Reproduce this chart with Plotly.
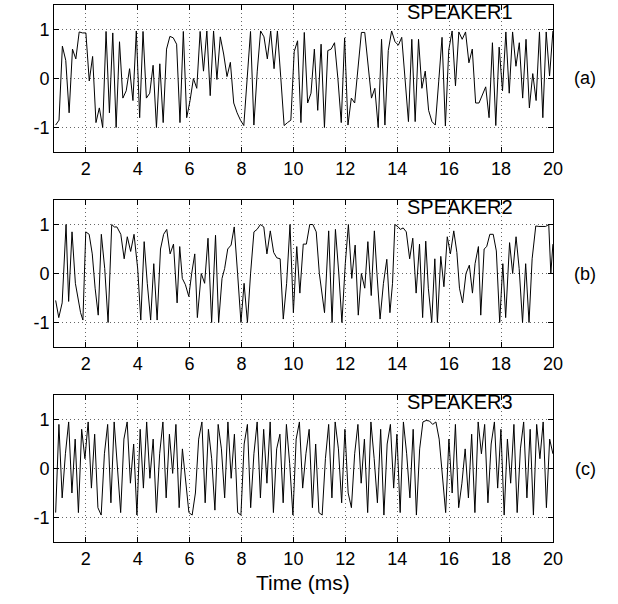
import numpy as np
import plotly.graph_objects as go

# ---- data ----
speaker1 = [-0.95, -0.85, 0.66, 0.37, -0.7, 0.6, 0.4, 0.95, 0.93, 0.93, -0.05, 0.45, -0.9, -0.6, -1.0,
            0.96, -0.7, 0.93, -1.0, 0.75, -0.4, -0.25, 0.2, -0.45, 0.97, -0.8, 0.96, -0.4, -0.3, 0.27,
            -1.0, 0.3, -0.9, 0.6, 0.86, 0.83, 0.7, -0.9, 0.96,
            -0.8, -0.45, 0.0, -0.2, 0.96, 0.15, 0.97, -0.35, 0.97, -0.02, 0.85, 0.5, 0.04, 0.33, -0.5,
            -0.7, -0.85, -0.96, 0.0, 0.96, -0.95, 0.15, 0.97, 0.85, 0.4, 0.97, 0.2, 0.97, 0.02, -0.96,
            -0.9, -0.85, 0.55, 0.77, -0.9, 0.94, -0.5, -0.3,
            0.6, -0.65, 0.7, -1.0, 0.57, 0.6, 0.73, 0.0, -0.9, 0.83, -0.95, -0.4, -0.5, 0.26, 0.94, 0.94,
            0.26, -0.4, -0.2, -1.0, 0.8, -0.95, 0.57, 0.97, 0.75, 0.68, 0.84, 0.0, -0.88, 0.8, -0.88,
            0.8, -0.2, 0.15, -0.65, -0.88, -0.95,
            -0.07, 0.84, -0.97, 0.58, 0.97, -0.15, 0.95, 0.8, 0.95, 0.32, 0.6, -0.5, -0.5, -0.35, -0.17,
            -0.8, 0.73, -0.96, 0.64, -0.25, 0.95, -0.3, 0.95, 0.25, 0.73, -0.4, 0.8, -0.6, 0.1, -0.45,
            0.95, -0.8, 0.95, 0.05, 0.97]

speaker2_t = [0.84, 0.96, 1.09, 1.24, 1.34, 1.47, 1.6, 1.7, 1.8, 1.89, 2.0, 2.13, 2.25, 2.36, 2.48,
              2.6, 2.73, 2.86, 3.0, 3.1, 3.2, 3.35, 3.48, 3.6, 3.73, 3.86, 4.0, 4.12, 4.25, 4.37,
              4.5, 4.62, 4.75, 4.88, 5.0, 5.12, 5.25, 5.38, 5.52, 5.62, 5.72, 5.84, 5.97, 6.08, 6.2,
              6.3, 6.45, 6.58, 6.71, 6.85, 7.0, 7.12, 7.25, 7.35, 7.47, 7.6, 7.72, 7.85, 7.98, 8.1,
              8.23, 8.35, 8.48, 8.6, 8.73, 8.86, 8.98, 9.11, 9.24, 9.36, 9.49, 9.61, 9.74, 9.87, 10.0,
              10.13, 10.25, 10.38, 10.5, 10.63, 10.75, 10.88, 11.0, 11.2, 11.36, 11.49, 11.62, 11.75,
              11.87, 12.0, 12.12, 12.25, 12.38, 12.5, 12.62, 12.75, 12.87, 13.0, 13.12, 13.22, 13.34,
              13.47, 13.6, 13.72, 13.82, 13.91, 14.04, 14.12, 14.23, 14.35, 14.48, 14.6, 14.73, 14.86,
              14.98, 15.1, 15.2, 15.33, 15.45, 15.55, 15.68, 15.8, 15.93, 16.05, 16.18, 16.3, 16.4,
              16.52, 16.65, 16.78, 16.9, 17.0, 17.13, 17.22, 17.35, 17.45, 17.57, 17.7, 17.82, 17.95,
              18.07, 18.18, 18.33, 18.45, 18.58, 18.7, 18.83, 18.95, 19.08, 19.2, 19.34, 19.46, 19.58,
              19.72, 19.84, 19.92, 20.0]
speaker2_v = [-0.55, -0.9, -0.6, 1.0, -0.57, 0.85, -0.2, -0.5, -0.8, -0.95, 0.85, 0.8, 0.4, -0.3, -0.85,
              0.8, 0.1, -1.0, 1.0, 0.95, 0.95, 0.8, 0.3, 0.75, 0.45, 0.8, 0.1, -0.95, 0.65, -0.2,
              -0.95, 0.2, -0.95, 0.5, 0.8, 0.9, 0.4, 0.6, -0.6, 0.55, -0.1, -0.23, -0.47, 0.0, 0.4,
              -0.9, 0.0, -0.2, 0.72, -1.0, 0.78, -1.0, -0.1, 0.1, 0.5, 0.58, 0.95, 0.0, -1.0, -0.2,
              -1.0, 0.0, 0.85, 0.9, 1.0, 0.95, 0.4, 0.87, 0.43, 0.32, 0.3, -0.93, -0.2, 1.0, -0.8,
              0.55, -0.4, 0.6, 0.6, 1.0, 1.0, 0.85, 0.0, -0.8, 0.87, -1.0, 0.9, 0.0,
              -1.0, 0.2, 1.0, -0.1, 0.58, -0.85, 0.0, -0.3, 0.65, -0.45, 0.87, 0.0, -0.93,
              -0.2, 0.29, -0.8, -0.2, 1.0, 0.95, 0.9, 0.93, 0.85, 0.3, 0.72, -0.4, 0.6,
              -0.9, 0.66, -0.3, -1.0, 0.3, -1.0, 0.35, -0.27, 0.75, 0.4, 0.87, 0.43, -0.3,
              -0.6, 0.0, 0.17, -0.4, 0.2, 0.55, -0.85, 0.5, 0.55, 0.8, 0.8, 0.46, -1.0,
              0.2, -0.9, 0.63, 0.0, 0.75, 0.1, -1.0, 0.2, -1.0, 0.3, 0.97, 0.96, 0.96,
              0.96, 1.0, 0.0, 0.6]

speaker3 = [-0.9,
            0.9, -0.6, 0.3, 0.95, -0.5, 0.6, -0.9, 0.8,
            0.2, 0.95, -0.4, 0.7, -0.8, -0.95, 0.3, 0.9,
            -0.7, 0.95, 0.1, -0.9, 0.6, 0.95, -0.3, 0.5,
            -0.95, 0.8, -0.4, 0.95, -0.2, 0.6, -0.9, 0.3,
            0.95, -0.6, 0.7, -0.1, 0.9, -0.8, 0.4, -0.3,
            -0.9, -0.95, -0.5, 0.6, 0.95, -0.7, 0.8, 0.2,
            -0.85, 0.9, 0.4, -0.6, 0.95, -0.2, 0.7, -0.9,
            -0.95, 0.5, 0.9, -0.8, 0.3, 0.95, -0.6, 0.8,
            -0.3, 0.95, -0.9, 0.4, 0.7, -0.7, 0.9, 0.1,
            -0.95, 0.6, 0.95, -0.4, 0.3, 0.8, -0.8, 0.5,
            -0.9, -0.95, 0.2, 0.9, -0.6, 0.95, 0.4, -0.7,
            0.8, -0.5, -0.8, 0.3, 0.9, -0.3, 0.6, -0.9,
            0.95, 0.2, -0.7, 0.8, -0.95, 0.5, 0.9, -0.4,
            0.7, -0.9, 0.95, 0.3, -0.6, 0.8, -0.95, 0.4,
            0.95, 0.98, 0.97, 0.9, 0.95, 0.6, -0.2, -0.9,
            0.6, -0.5, 0.9, -0.8, -0.3, 0.4, -0.6, 0.7,
            -0.9, 0.95, 0.3, 0.9, -0.7, 0.5, 0.95, -0.4,
            0.8, -0.95, 0.6, -0.3, 0.9, -0.9, 0.4, 0.95,
            -0.6, 0.8, -0.95, 0.9, 0.2, 0.95, -0.8, 0.6, 0.3]

names = ["SPEAKER1", "SPEAKER2", "SPEAKER3"]
letters = ["(a)", "(b)", "(c)"]
t_start, t_end = 0.84, 20.0
x_range = [0.78, 20]
x_ticks = [2, 4, 6, 8, 10, 12, 14, 16, 18, 20]
y_ticks = [-1, 0, 1]
y_ticktext = ["-1", "0", "1"]

series = [
    (np.linspace(t_start, t_end, len(speaker1)), speaker1),
    (speaker2_t, speaker2_v),
    (np.linspace(t_start, t_end, len(speaker3)), speaker3),
]

W, H = 618, 604
left_px, right_px = 55, 562
panels_px = [(5, 152), (200, 347), (395, 542)]
FONT = "Liberation Sans, Arial, Helvetica, sans-serif"

fig = go.Figure()
for i, ((t, vals), (top, bot)) in enumerate(zip(series, panels_px)):
    n = i + 1
    fig.add_trace(go.Scatter(x=t, y=vals, mode="lines", line=dict(color="black", width=1),
                             xaxis=f"x{n}", yaxis=f"y{n}", showlegend=False))
    common = dict(ticks="inside", ticklen=5, tickcolor="black", showline=True, linecolor="black",
                  linewidth=1, mirror="allticks", showgrid=True, gridcolor="#666",
                  griddash="1px,3px", gridwidth=1, zeroline=False,
                  tickfont=dict(family=FONT, size=18, color="black"))
    xa = dict(domain=[left_px / W, right_px / W], range=x_range, tickvals=x_ticks,
              anchor=f"y{n}", **common)
    ya = dict(domain=[1 - bot / H, 1 - top / H], range=[-1.5, 1.5], tickvals=y_ticks,
              ticktext=y_ticktext, anchor=f"x{n}", **common)
    fig.update_layout({f"xaxis{n}": xa, f"yaxis{n}": ya})
    fig.add_annotation(x=14.3, y=1.1, xref=f"x{n}", yref=f"y{n}", text=names[i],
                       showarrow=False, xanchor="left", yanchor="bottom",
                       font=dict(family=FONT, size=20, color="black"))
    fig.add_annotation(x=595 / W, y=1 - (top + bot) / 2 / H, xref="paper", yref="paper",
                       text=letters[i], showarrow=False, xanchor="center", yanchor="middle",
                       font=dict(family=FONT, size=18, color="black"))

fig.add_annotation(x=308 / W, y=1 - 582 / H, xref="paper", yref="paper", text="Time (ms)",
                   showarrow=False, xanchor="center", yanchor="middle",
                   font=dict(family=FONT, size=21, color="black"))

fig.update_layout(width=W, height=H, margin=dict(l=0, r=0, t=0, b=0),
                  plot_bgcolor="white", paper_bgcolor="white")
fig.write_html("out.html")
